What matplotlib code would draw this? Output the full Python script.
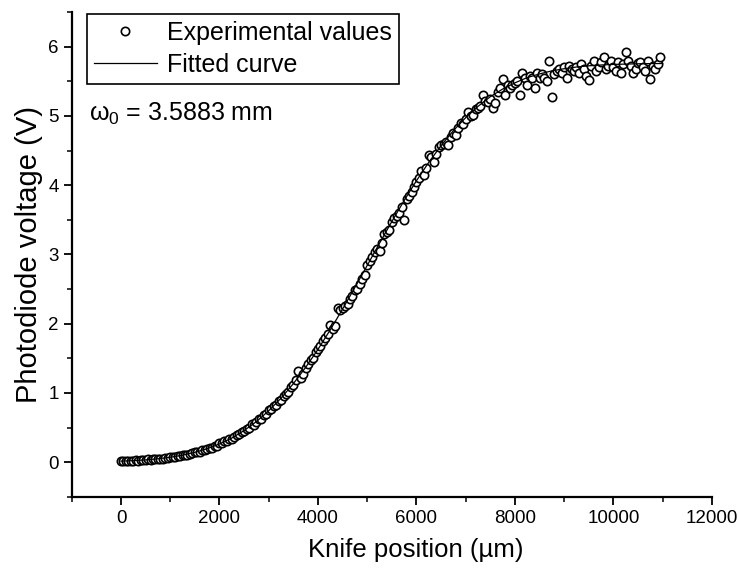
import matplotlib
matplotlib.use('Agg')
import matplotlib.pyplot as plt
from matplotlib.ticker import MultipleLocator

plt.rcParams['font.family'] = ['Liberation Sans', 'DejaVu Sans']
plt.rcParams['mathtext.fontset'] = 'custom'
plt.rcParams['mathtext.rm'] = 'Liberation Sans'
plt.rcParams['mathtext.it'] = 'Liberation Sans'

# measured points, every 50 um from 0 to 10950
pos = list(range(0, 11000, 50))
volt = [0.01,0.02,0.01,0.02,0.02,0.02,0.03,0.02,0.03,0.03,0.03,0.04,0.03,0.04,0.04,0.05,0.04,0.05,0.06,0.06,
        0.07,0.08,0.08,0.09,0.09,0.10,0.10,0.11,0.12,0.13,0.14,0.14,0.15,0.17,0.17,0.19,0.20,0.21,0.23,0.24,
        0.27,0.27,0.30,0.31,0.33,0.34,0.37,0.39,0.40,0.43,0.45,0.48,0.50,0.55,0.54,0.58,0.62,0.63,0.68,0.70,
        0.75,0.77,0.81,0.83,0.88,0.90,0.96,0.99,1.01,1.08,1.12,1.18,1.31,1.22,1.28,1.36,1.42,1.48,1.50,1.59,
        1.63,1.68,1.75,1.79,1.85,1.98,1.92,1.96,2.23,2.20,2.22,2.26,2.28,2.35,2.40,2.49,2.50,2.58,2.64,2.70,
        2.85,2.90,2.96,3.04,3.08,3.05,3.17,3.30,3.33,3.35,3.47,3.52,3.55,3.60,3.68,3.50,3.80,3.85,3.90,3.97,
        4.05,4.10,4.20,4.15,4.25,4.43,4.40,4.33,4.45,4.55,4.58,4.60,4.62,4.58,4.70,4.75,4.72,4.82,4.90,4.88,
        4.95,5.05,5.00,5.02,5.10,5.12,5.15,5.30,5.22,5.20,5.25,5.12,5.18,5.35,5.40,5.53,5.30,5.45,5.40,5.45,
        5.48,5.50,5.30,5.62,5.55,5.45,5.58,5.55,5.40,5.62,5.55,5.60,5.55,5.50,5.80,5.28,5.60,5.65,5.68,5.62,
        5.70,5.55,5.72,5.68,5.65,5.70,5.62,5.75,5.68,5.58,5.52,5.72,5.80,5.65,5.70,5.78,5.85,5.68,5.72,5.80,
        5.70,5.65,5.78,5.62,5.75,5.93,5.80,5.72,5.62,5.68,5.76,5.78,5.70,5.65,5.80,5.53,5.72,5.68,5.75,5.85]

# fitted curve, every 250 um
fit_pos = list(range(0, 11250, 250))
fit_volt = [0.015,0.022,0.033,0.049,0.071,0.101,0.142,0.194,0.263,0.348,0.457,0.586,0.743,0.924,1.134,
            1.369,1.629,1.912,2.211,2.524,2.841,3.162,3.475,3.779,4.064,4.330,4.571,4.788,4.975,5.138,
            5.278,5.388,5.478,5.554,5.607,5.651,5.682,5.707,5.724,5.736,5.744,5.749,5.753,5.756,5.757]

fig = plt.figure(figsize=(7.4, 5.75), dpi=100)
ax = fig.add_axes([0.097, 0.136, 0.865, 0.843])

ax.plot(pos, volt, 'o', mfc='white', mec='black', ms=6, mew=1.2, label='Experimental values')
ax.plot(fit_pos, fit_volt, 'k-', lw=0.9, label='Fitted curve')

ax.set_xlim(-1000, 12000)
ax.set_ylim(-0.5, 6.5)
ax.xaxis.set_major_locator(MultipleLocator(2000))
ax.xaxis.set_minor_locator(MultipleLocator(1000))
ax.yaxis.set_major_locator(MultipleLocator(1))
ax.yaxis.set_minor_locator(MultipleLocator(0.5))
ax.spines['top'].set_visible(False)
ax.spines['right'].set_visible(False)
ax.spines['left'].set_linewidth(1.6)
ax.spines['bottom'].set_linewidth(1.6)
ax.tick_params(which='major', direction='out', length=6, width=1.3, labelsize=13.5,
               labelfontfamily=['Liberation Sans Narrow', 'Liberation Sans'])
ax.tick_params(which='minor', direction='out', length=3.5, width=1.1)

ax.set_xlabel('Knife position (\u00b5m)', fontsize=18.5)
ax.xaxis.set_label_coords(0.538, -0.085)
ax.set_ylabel('Photodiode voltage (V)', fontsize=21, labelpad=4)

leg = ax.legend(loc='upper left', bbox_to_anchor=(0.024, 0.996), borderaxespad=0,
                fontsize=18, frameon=True, fancybox=False, handlelength=2.5,
                handletextpad=0.4, labelspacing=0.3, borderpad=0.28,
                edgecolor='black', framealpha=1)
leg.get_frame().set_linewidth(1.2)

ax.text(0.027, 0.79, r'$\omega_0$ = 3.5883 mm', transform=ax.transAxes, fontsize=18, va='center')

fig.savefig('out.png', dpi=100)
